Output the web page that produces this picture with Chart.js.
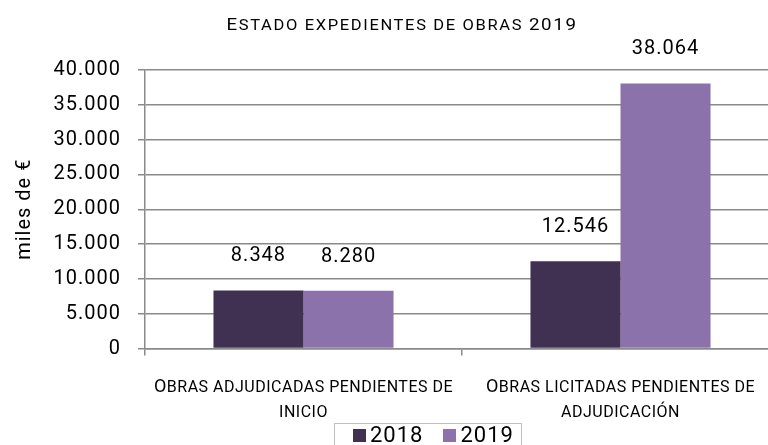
<!DOCTYPE html>
<html>
<head>
<meta charset="utf-8">
<script src="https://cdn.jsdelivr.net/npm/chart.js@4"></script>
<style>
  html, body { margin: 0; padding: 0; background: #fff; width: 768px; height: 445px; overflow: hidden; }
  #wrap { position: relative; width: 768px; height: 445px; overflow: hidden; }
  canvas { position: absolute; left: 0; top: 0; }
  #legend {
    position: absolute; left: 334px; top: 423px; height: 40px;
    border: 1px solid #bfbfbf; box-sizing: border-box;
    display: flex; align-items: flex-start; padding: 0 7px 0 18px;
    font-family: Roboto, sans-serif; font-size: 22px; letter-spacing: 1px; color: #000;
  }
  #legend .item { display: flex; align-items: center; height: 24px; margin-top: -2px; }
  #legend .item + .item { margin-left: 20px; }
  #legend .sw { width: 13px; height: 13px; margin-right: 4px; margin-top: 3px; }
</style>
</head>
<body>
<div id="wrap">
  <canvas id="chart" width="804" height="445"></canvas>
  <div id="legend"></div>
</div>
<script>
// Categories (each label split over two lines)
const categories = [
  ['Obras adjudicadas pendientes de', 'inicio'],
  ['Obras licitadas pendientes de', 'adjudicación']
];
const seriesNames = ['2018', '2019'];
const values2018 = [8348, 12546];
const values2019 = [8280, 38064];
const seriesColors = ['#403152', '#8b72aa'];

// Value axis (miles de €)
const yMin = 0;
const yMax = 40000;
const yStep = 5000;

const chartTitle = 'Estado expedientes de obras 2019';
const yAxisTitle = 'miles de €';

const fontFamily = 'Roboto, sans-serif';
const gridColor = '#8a8a8a';

// Spanish thousands separator: 38064 -> "38.064"
const fmt = v => String(v).replace(/\B(?=(\d{3})+(?!\d))/g, '.');

// Small-caps text: lowercase letters are drawn as smaller capitals
function drawSmallCaps(ctx, text, cx, baseline, o) {
  const runs = [];
  for (const ch of text) {
    const small = ch === ' ' || ch !== ch.toUpperCase();
    const last = runs[runs.length - 1];
    if (last && last.small === small) last.text += ch.toUpperCase();
    else runs.push({ small, text: ch.toUpperCase() });
  }
  ctx.save();
  ctx.letterSpacing = o.spacing + 'px';
  let total = 0;
  runs.forEach(r => {
    ctx.font = (r.small ? o.smallSize : o.size) + 'px ' + fontFamily;
    r.w = ctx.measureText(r.text).width;
    total += r.w;
  });
  ctx.translate(cx, baseline);
  ctx.scale(o.scaleX, 1);
  ctx.textAlign = 'left';
  ctx.textBaseline = 'alphabetic';
  ctx.fillStyle = '#000';
  let x = -total / 2;
  runs.forEach(r => {
    ctx.font = (r.small ? o.smallSize : o.size) + 'px ' + fontFamily;
    ctx.fillText(r.text, x, 0);
    x += r.w;
  });
  ctx.restore();
}

// Slightly open letter spacing for the axis text
const spacing = {
  id: 'spacing',
  beforeLayout(chart) { chart.ctx.letterSpacing = '1px'; },
  beforeDraw(chart) { chart.ctx.letterSpacing = '1px'; }
};

// Chart title and category names in small caps
const smallCapsText = {
  id: 'smallCapsText',
  afterDraw(chart, args, opts) {
    const ctx = chart.ctx;
    drawSmallCaps(ctx, opts.title, chart.width / 2, opts.titleBaseline, opts.titleFont);
    const xs = chart.scales.x;
    chart.data.labels.forEach((lines, i) => {
      const cx = xs.getPixelForTick(i);
      lines.forEach((line, k) => {
        const y = chart.chartArea.bottom + opts.labelFirstBaseline + k * opts.labelLineStep;
        drawSmallCaps(ctx, line, cx, y, opts.labelFont);
      });
    });
  }
};

// Value labels above each bar
const valueLabels = {
  id: 'valueLabels',
  afterDatasetsDraw(chart, args, opts) {
    const ctx = chart.ctx;
    ctx.save();
    ctx.letterSpacing = '1px';
    ctx.font = opts.size + 'px ' + fontFamily;
    ctx.fillStyle = '#000';
    ctx.textAlign = 'center';
    ctx.textBaseline = 'alphabetic';
    chart.data.datasets.forEach((ds, i) => {
      chart.getDatasetMeta(i).data.forEach((bar, j) => {
        ctx.fillText(fmt(ds.data[j]), bar.x, bar.y - opts.gap);
      });
    });
    ctx.restore();
  }
};

const datasets = [values2018, values2019].map((vals, i) => ({
  label: seriesNames[i],
  data: vals,
  backgroundColor: seriesColors[i],
  borderWidth: 0,
  categoryPercentage: 0.568,
  barPercentage: 1.0
}));

new Chart(document.getElementById('chart'), {
  type: 'bar',
  data: { labels: categories, datasets },
  plugins: [spacing, valueLabels, smallCapsText],
  options: {
    responsive: false,
    animation: false,
    layout: { padding: { left: 0, right: 0, top: 70, bottom: 89.5 } },
    plugins: {
      legend: { display: false },
      title: { display: false },
      tooltip: { enabled: false },
      valueLabels: { size: 20, gap: 29 },
      smallCapsText: {
        title: chartTitle,
        titleBaseline: 29.5,
        titleFont: { size: 17, smallSize: 15, spacing: 1.5, scaleX: 1.1 },
        labelFirstBaseline: 43.5,
        labelLineStep: 25,
        labelFont: { size: 18, smallSize: 16, spacing: 0.5, scaleX: 1.0 }
      }
    },
    scales: {
      x: {
        grid: {
          display: true, drawOnChartArea: false, drawTicks: true,
          offset: true, tickLength: 7, color: gridColor, lineWidth: 1.5
        },
        border: { display: true, color: gridColor, width: 1.5 },
        ticks: { display: false }
      },
      y: {
        min: yMin, max: yMax,
        grid: { color: gridColor, lineWidth: 1.5, tickLength: 7 },
        border: { display: true, color: gridColor, width: 1.5 },
        ticks: {
          stepSize: yStep, color: '#000', padding: 17,
          font: { family: fontFamily, size: 20 },
          callback: v => fmt(v)
        },
        title: {
          display: true, text: yAxisTitle, color: '#000',
          font: { family: fontFamily, size: 20 },
          padding: { top: 13, bottom: 0 }
        },
        afterFit(scale) { scale.width = 145; }
      },
      // empty right-hand strip so the plot runs past the page edge
      edge: {
        type: 'linear', position: 'right', display: true,
        grid: { display: false }, border: { display: false },
        ticks: { display: false },
        afterFit(scale) { scale.width = 25; }
      }
    }
  }
});

// Legend
const legend = document.getElementById('legend');
seriesNames.forEach((name, i) => {
  const item = document.createElement('div');
  item.className = 'item';
  const sw = document.createElement('span');
  sw.className = 'sw';
  sw.style.background = seriesColors[i];
  const txt = document.createElement('span');
  txt.textContent = name;
  item.appendChild(sw);
  item.appendChild(txt);
  legend.appendChild(item);
});
</script>
</body>
</html>
